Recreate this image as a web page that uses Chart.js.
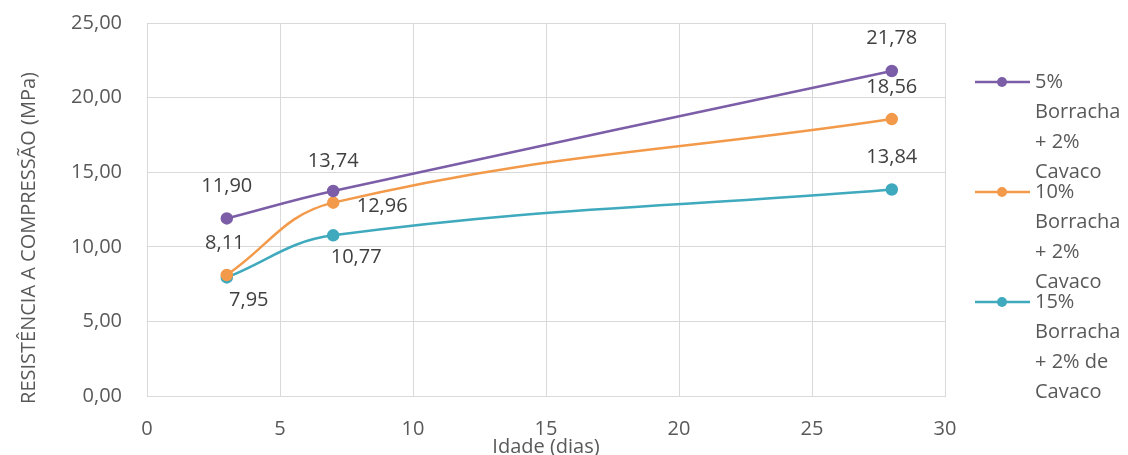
<!DOCTYPE html>
<html>
<head>
<meta charset="utf-8">
<script src="https://cdn.jsdelivr.net/npm/chart.js@4.4.1/dist/chart.umd.min.js"></script>
<style>
    html, body { margin: 0; padding: 0; background: #fff; }
    #wrap { width: 1128px; height: 455px; }
</style>
</head>
<body>
<div id="wrap"><canvas id="resistenciaChart" width="1128" height="455"></canvas></div>
<script>
// dados
const idades = [3, 7, 28];
const borracha5 = [11.90, 13.74, 21.78];
const borracha10 = [8.11, 12.96, 18.56];
const borracha15 = [7.95, 10.77, 13.84];
const nomes5 = ["5%", "Borracha", "+ 2%", "Cavaco"];
const nomes10 = ["10%", "Borracha", "+ 2%", "Cavaco"];
const nomes15 = ["15%", "Borracha", "+ 2% de", "Cavaco"];
const xTicks = [0, 5, 10, 15, 20, 25, 30];
const yTicks = [0, 5, 10, 15, 20, 25];

const fonte = "'Open Sans', sans-serif";
const cinzaTexto = "#595959";
const cinzaGrade = "#d9d9d9";

function virgula(v) {
    return v.toFixed(2).replace(".", ",");
}

function pontos(ys) {
    return idades.map(function (x, i) { return { x: x, y: ys[i] }; });
}

// posicao dos rotulos em relacao ao ponto (dx, dy)
const posRotulos = [
    [[0, -32], [0, -30], [0, -33]],
    [[-2, -32], [49, 4], [0, -32]],
    [[22, 23], [23, 22], [0, -32]]
];

const series = [
    { label: nomes5.join(" "), linhas: nomes5, data: borracha5, cor: "#7b5ea7" },
    { label: nomes10.join(" "), linhas: nomes10, data: borracha10, cor: "#f29a4a" },
    { label: nomes15.join(" "), linhas: nomes15, data: borracha15, cor: "#3fa9bd" }
];

const extras = {
    id: "extras",
    afterDatasetsDraw: function (chart) {
        let ctx = chart.ctx;
        ctx.save();

        // rotulos de dados
        ctx.font = "20px " + fonte;
        ctx.fillStyle = "#404040";
        ctx.textAlign = "center";
        ctx.textBaseline = "middle";
        chart.data.datasets.forEach(function (ds, d) {
            chart.getDatasetMeta(d).data.forEach(function (pt, i) {
                let off = posRotulos[d][i];
                ctx.fillText(virgula(ds.data[i].y), pt.x + off[0], pt.y + off[1]);
            });
        });

        // titulo do eixo y
        ctx.save();
        ctx.translate(29, 238);
        ctx.rotate(-Math.PI / 2);
        ctx.font = "20px " + fonte;
        ctx.fillStyle = cinzaTexto;
        ctx.fillText("RESISTÊNCIA A COMPRESSÃO (MPa)", 0, 0);
        ctx.restore();

        // legenda
        ctx.textAlign = "left";
        ctx.font = "20px " + fonte;
        series.forEach(function (s, k) {
            let y0 = 82 + k * 110;
            ctx.strokeStyle = s.cor;
            ctx.lineWidth = 2.5;
            ctx.beginPath();
            ctx.moveTo(975, y0);
            ctx.lineTo(1030, y0);
            ctx.stroke();
            ctx.fillStyle = s.cor;
            ctx.beginPath();
            ctx.arc(1002, y0, 5, 0, Math.PI * 2);
            ctx.fill();
            ctx.fillStyle = cinzaTexto;
            s.linhas.forEach(function (t, j) {
                ctx.fillText(t, 1035, y0 + j * 30);
            });
        });
        ctx.restore();
    }
};

let ctx = document.getElementById("resistenciaChart").getContext("2d");

new Chart(ctx, {
    type: "line",
    data: {
        datasets: series.map(function (s) {
            return {
                label: s.label,
                data: pontos(s.data),
                borderColor: s.cor,
                backgroundColor: s.cor,
                borderWidth: 2.5,
                pointRadius: 5,
                pointHoverRadius: 5,
                tension: 0.4,
                fill: false
            };
        })
    },
    options: {
        responsive: false,
        animation: false,
        layout: { padding: { top: 23, right: 183, left: 0, bottom: 0 } },
        plugins: {
            legend: { display: false },
            tooltip: { enabled: false }
        },
        scales: {
            x: {
                type: "linear",
                min: 0,
                max: 30,
                afterBuildTicks: function (scale) {
                    scale.ticks = xTicks.map(function (v) { return { value: v }; });
                },
                afterFit: function (scale) { scale.height = 59; },
                grid: { color: cinzaGrade, drawTicks: false },
                border: { color: cinzaGrade },
                ticks: { color: cinzaTexto, font: { family: fonte, size: 20 }, padding: 21 },
                title: {
                    display: true,
                    text: "Idade (dias)",
                    color: cinzaTexto,
                    font: { family: fonte, size: 20 },
                    padding: { top: 0, bottom: -4 }
                }
            },
            y: {
                min: 0,
                max: 25,
                afterBuildTicks: function (scale) {
                    scale.ticks = yTicks.map(function (v) { return { value: v }; });
                },
                afterFit: function (scale) {
                    scale.width = 147;
                    scale.paddingTop = 12;
                    scale.paddingBottom = 12;
                },
                grid: { color: cinzaGrade, drawTicks: false },
                border: { color: cinzaGrade },
                ticks: {
                    color: cinzaTexto,
                    font: { family: fonte, size: 20 },
                    padding: 25,
                    callback: function (v) { return virgula(v); }
                }
            }
        }
    },
    plugins: [extras]
});
</script>
</body>
</html>
